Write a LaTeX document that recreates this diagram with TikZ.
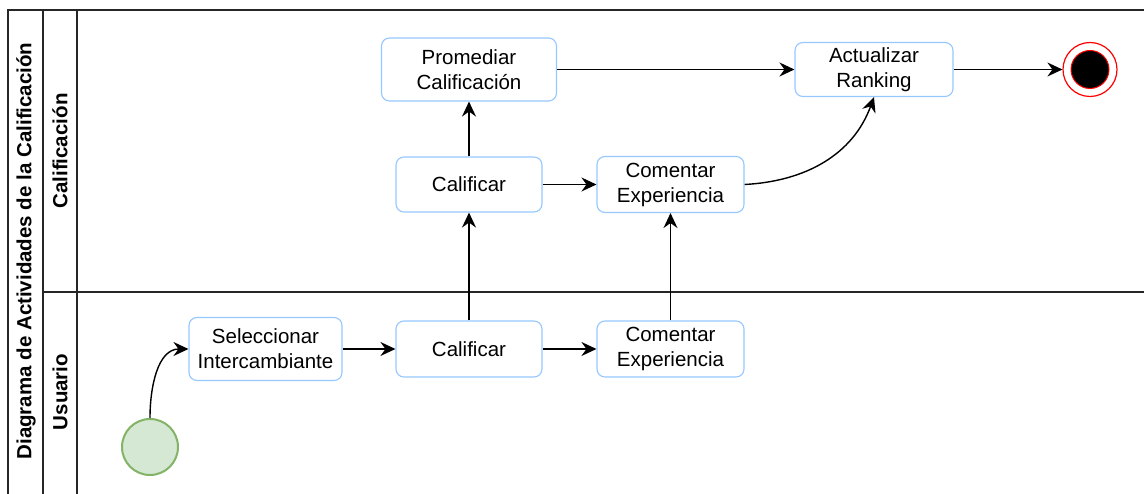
\documentclass[tikz,border=0pt]{standalone}
\usepackage{fontspec}
\setmainfont{Liberation Sans}
\usetikzlibrary{arrows.meta}
\definecolor{boxblue}{RGB}{150,200,255}
\definecolor{startfill}{HTML}{D5E8D4}
\definecolor{startline}{HTML}{82B366}
\begin{document}
\begin{tikzpicture}[x=1pt,y=-1pt,
  activity/.style={draw=boxblue, line width=1.1pt, fill=white, rounded corners=8pt,
    align=center, inner sep=0pt, font=\fontsize{20.5}{25}\selectfont},
  flow/.style={draw=black, line width=1.4pt,
    -{Stealth[length=15pt,width=14pt,inset=5pt]}},
  lanelabel/.style={rotate=90, font=\fontsize{20.5}{25}\selectfont\bfseries},
  frame/.style={line width=1.5pt, draw=black!85}]

\useasboundingbox (0,0) rectangle (1144,494);

% pool and lanes
\draw[frame] (1144,10) -- (8,10) -- (8,494);
\draw[frame] (43,10) -- (43,494);
\draw[frame] (77,10) -- (77,494);
\draw[frame] (43,292) -- (1144,292);

\node[lanelabel] (pool) at (26,251) {Diagrama de Actividades de la Calificación};
\node[lanelabel] (lanecal) at (60,151) {Calificación};
\node[lanelabel] (laneusr) at (60,392) {Usuario};

% activities
\node[activity, minimum width=175pt, minimum height=63pt] (prom) at (469,69.5) {Promediar\\Calificación};
\node[activity, minimum width=158pt, minimum height=54pt] (act) at (874,69.5) {Actualizar\\Ranking};
\node[activity, minimum width=146pt, minimum height=55pt] (cal1) at (469,184.5) {Calificar};
\node[activity, minimum width=147pt, minimum height=56pt] (com1) at (670.5,184.5) {Comentar\\Experiencia};
\node[activity, minimum width=153pt, minimum height=63pt] (sel) at (265.5,349) {Seleccionar\\Intercambiante};
\node[activity, minimum width=146pt, minimum height=56pt] (cal2) at (469,349) {Calificar};
\node[activity, minimum width=147pt, minimum height=56pt] (com2) at (670.5,349) {Comentar\\Experiencia};

% initial and final states
\node[circle, draw=startline, fill=startfill, line width=2pt, minimum size=56pt, inner sep=0pt] (start) at (150,447) {};
\node[circle, draw=red, line width=1.2pt, fill=white, minimum size=54pt, inner sep=0pt] (fin) at (1090,69.5) {};
\node[circle, draw=red, line width=1pt, fill=black, minimum size=38pt, inner sep=0pt] (fincore) at (fin.center) {};

% control flow
\draw[flow] (start.north) to[out=90,in=180] (sel.west);
\draw[flow] (sel) -- (cal2);
\draw[flow] (cal2) -- (com2);
\draw[flow] (cal2) -- (cal1);
\draw[flow] (com2) -- (com1);
\draw[flow] (cal1) -- (com1);
\draw[flow] (cal1) -- (prom);
\draw[flow] (prom) -- (act);
\draw[flow] (act) -- (fin);
\draw[flow] (com1.east) to[out=3,in=-110] (act.south);

\end{tikzpicture}
\end{document}
